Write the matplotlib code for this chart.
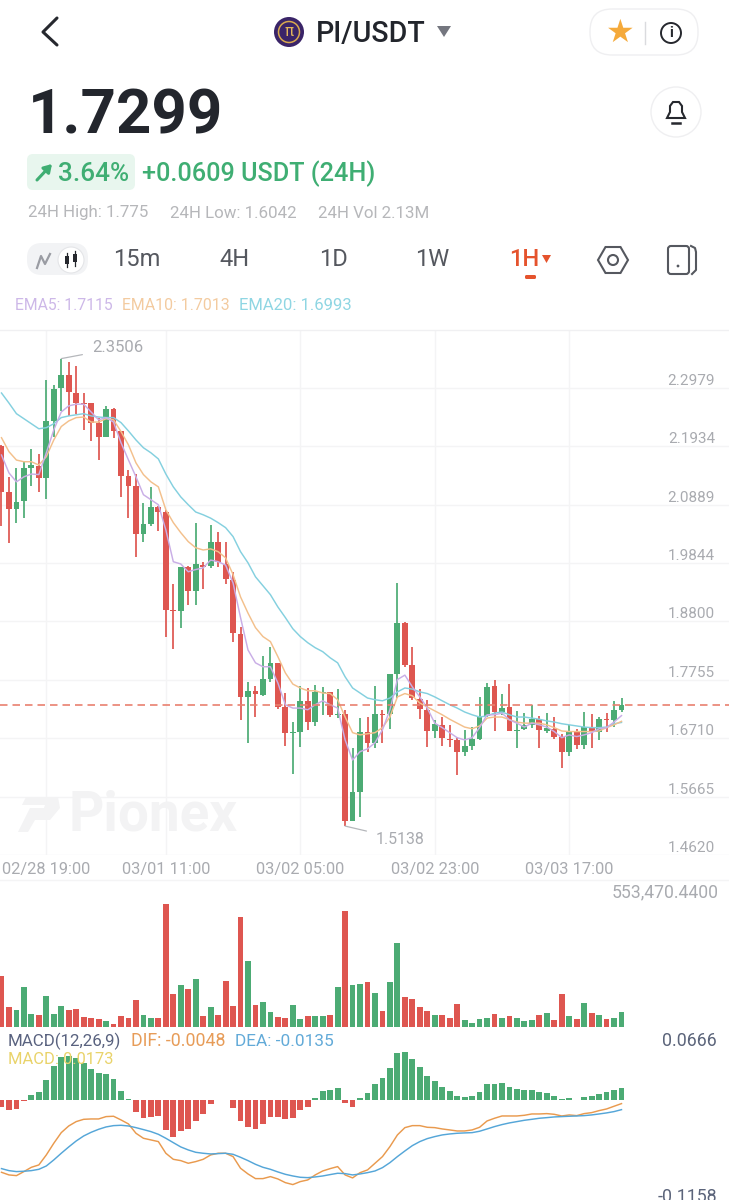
import numpy as np
import matplotlib
matplotlib.use("Agg")
import matplotlib.pyplot as plt
from matplotlib.patches import Circle, FancyBboxPatch, Polygon, Rectangle, RegularPolygon
from matplotlib.transforms import blended_transform_factory

plt.rcParams['font.family'] = ['Roboto', 'DejaVu Sans']

# ---------------- data ----------------
highs = [2.196,2.139,2.155,2.166,2.189,2.180,2.312,2.304,2.3506,2.345,2.338,2.289,2.271,2.245,2.266,2.262,2.221,2.151,2.144,2.092,2.121,
         2.087,2.080,1.947,1.978,1.980,2.057,1.987,2.053,2.040,2.023,1.969,1.870,1.772,1.765,1.818,1.835,1.806,1.752,1.700,1.765,1.761,
         1.767,1.763,1.754,1.759,1.722,1.654,1.707,1.709,1.765,1.722,1.786,1.949,1.879,1.835,1.759,1.740,1.704,1.709,1.695,1.674,1.686,
         1.691,1.745,1.770,1.776,1.751,1.768,1.720,1.716,1.731,1.711,1.716,1.709,1.679,1.695,1.688,1.718,1.715,1.709,1.716,1.738,1.743]
lows = [2.051,2.021,2.057,2.066,2.123,2.112,2.099,2.211,2.257,2.248,2.252,2.223,2.203,2.169,2.211,2.209,2.103,2.066,1.996,2.023,2.051,
        2.042,1.853,1.831,1.869,1.910,1.910,1.938,1.976,1.978,1.947,1.844,1.704,1.663,1.709,1.747,1.772,1.724,1.657,1.607,1.656,1.686,
        1.693,1.713,1.709,1.707,1.5138,1.523,1.530,1.647,1.654,1.663,1.688,1.743,1.799,1.740,1.705,1.656,1.672,1.657,1.656,1.606,1.640,
        1.650,1.668,1.709,1.684,1.713,1.684,1.654,1.686,1.690,1.654,1.681,1.670,1.618,1.640,1.652,1.652,1.654,1.668,1.683,1.691,1.718]
opens = [2.194,2.112,2.082,2.096,2.155,2.159,2.137,2.239,2.298,2.321,2.289,2.271,2.271,2.236,2.211,2.261,2.221,2.141,2.123,2.037,2.055,
         2.085,2.076,1.901,1.899,1.978,1.935,1.981,1.980,2.023,1.983,1.954,1.858,1.745,1.756,1.749,1.777,1.806,1.727,1.681,1.683,1.738,
         1.700,1.752,1.754,1.713,1.715,1.523,1.575,1.683,1.663,1.715,1.715,1.786,1.878,1.802,1.741,1.722,1.684,1.695,1.670,1.668,1.647,
         1.657,1.670,1.711,1.765,1.718,1.727,1.684,1.688,1.695,1.705,1.684,1.688,1.674,1.647,1.684,1.659,1.690,1.683,1.705,1.704,1.722]
closes = [2.112,2.082,2.094,2.155,2.160,2.137,2.239,2.296,2.321,2.291,2.271,2.269,2.236,2.211,2.261,2.221,2.141,2.123,2.037,2.055,2.085,
          2.076,1.901,1.899,1.978,1.935,1.983,1.978,2.023,1.987,1.956,1.860,1.745,1.756,1.751,1.777,1.806,1.727,1.681,1.683,1.738,1.700,
          1.754,1.754,1.713,1.715,1.523,1.575,1.683,1.663,1.715,1.713,1.786,1.878,1.802,1.743,1.724,1.684,1.697,1.672,1.668,1.647,1.657,
          1.670,1.709,1.763,1.718,1.725,1.684,1.686,1.695,1.705,1.686,1.690,1.674,1.647,1.683,1.659,1.691,1.683,1.705,1.704,1.722,1.7299]

ema5 = [2.178,2.146,2.130,2.139,2.144,2.143,2.182,2.223,2.255,2.266,2.269,2.269,2.255,2.241,2.245,2.237,2.200,2.169,2.139,2.107,2.098,
        2.089,2.044,1.987,1.983,1.969,1.973,1.976,1.990,1.987,1.981,1.949,1.887,1.829,1.806,1.799,1.799,1.770,1.731,1.725,1.725,1.722,
        1.731,1.738,1.731,1.725,1.668,1.632,1.647,1.652,1.663,1.686,1.722,1.776,1.784,1.763,1.745,1.725,1.698,1.690,1.681,1.672,1.668,
        1.672,1.690,1.713,1.713,1.716,1.704,1.698,1.691,1.698,1.695,1.691,1.683,1.672,1.677,1.674,1.677,1.681,1.688,1.690,1.700,1.7115]
ema10 = [2.209,2.184,2.169,2.166,2.166,2.160,2.175,2.205,2.229,2.239,2.245,2.246,2.237,2.237,2.243,2.241,2.220,2.196,2.164,2.143,2.130,
         2.121,2.080,2.057,2.039,2.023,2.012,2.008,2.010,2.005,1.994,1.964,1.924,1.895,1.869,1.853,1.844,1.817,1.788,1.768,1.761,1.756,
         1.756,1.752,1.751,1.740,1.709,1.681,1.677,1.679,1.681,1.690,1.709,1.745,1.751,1.747,1.734,1.727,1.720,1.713,1.705,1.698,1.691,
         1.688,1.693,1.707,1.709,1.709,1.704,1.700,1.698,1.698,1.698,1.695,1.690,1.684,1.683,1.683,1.683,1.683,1.684,1.690,1.695,1.7013]
ema20 = [2.289,2.271,2.252,2.243,2.234,2.225,2.227,2.234,2.245,2.248,2.250,2.252,2.248,2.246,2.245,2.245,2.236,2.221,2.205,2.191,2.182,
         2.171,2.144,2.121,2.103,2.089,2.076,2.071,2.065,2.057,2.048,2.032,2.005,1.985,1.960,1.944,1.928,1.906,1.887,1.867,1.853,1.842,
         1.833,1.826,1.815,1.806,1.781,1.761,1.752,1.743,1.740,1.738,1.743,1.754,1.761,1.759,1.754,1.751,1.745,1.738,1.731,1.725,1.718,
         1.713,1.709,1.711,1.716,1.718,1.713,1.709,1.709,1.707,1.705,1.702,1.700,1.697,1.695,1.693,1.691,1.690,1.690,1.691,1.697,1.6993]

# volume in thousands
volume_k = [229,87,75,179,56,53,140,57,92,74,78,42,39,35,26,12,47,38,120,51,39,39,553,149,186,168,214,47,89,53,208,95,493,298,98,110,66,
            42,39,96,36,47,50,50,51,179,520,188,191,203,150,71,202,376,135,123,87,71,51,54,41,101,29,15,35,38,57,41,48,39,26,32,51,60,30,
            147,50,36,107,63,54,35,38,66]

macd_hist = [-.0091,-.0144,-.0130,-.0014,.0077,.0120,.0298,.0490,.0629,.0638,.0605,.0542,.0456,.0389,.0374,.0302,.0139,.0014,-.0173,-.0254,
             -.0240,-.0221,-.0427,-.0528,-.0442,-.0413,-.0298,-.0197,-.0053,0,.0010,-.0106,-.0302,-.0384,-.0408,-.0346,-.0235,-.0240,-.0274,
             -.0259,-.0144,-.0096,.0034,.0130,.0149,.0178,-.0043,-.0101,.0029,.0101,.0235,.0317,.0470,.0677,.0691,.0590,.0485,.0350,.0278,
             .0192,.0134,.0067,.0048,.0058,.0120,.0235,.0240,.0250,.0192,.0158,.0144,.0144,.0115,.0101,.0067,.0014,.0034,.0010,.0048,.0058,
             .0096,.0115,.0144,.0173]
dif = [-.1037,-.1075,-.1085,-.1027,-.0965,-.0931,-.0787,-.0619,-.0466,-.0370,-.0307,-.0274,-.0269,-.0269,-.0235,-.0230,-.0283,-.0341,-.0475,
       -.0547,-.0571,-.0595,-.0763,-.0850,-.0869,-.0907,-.0883,-.0850,-.0787,-.0763,-.0763,-.0811,-.0979,-.1061,-.1128,-.1128,-.1099,-.1133,
       -.1186,-.1214,-.1171,-.1147,-.1075,-.1018,-.0984,-.0955,-.1075,-.1118,-.1042,-.1003,-.0907,-.0811,-.0667,-.0499,-.0394,-.0365,-.0365,
       -.0389,-.0394,-.0413,-.0427,-.0442,-.0442,-.0427,-.0389,-.0298,-.0259,-.0226,-.0226,-.0226,-.0216,-.0197,-.0197,-.0192,-.0202,-.0226,
       -.0211,-.0221,-.0192,-.0178,-.0149,-.0125,-.0086,-.0048]
dea = [-.0984,-.1013,-.1027,-.1022,-.1013,-.0994,-.0946,-.0859,-.0763,-.0672,-.0586,-.0514,-.0461,-.0418,-.0384,-.0365,-.0360,-.0370,-.0394,
       -.0422,-.0451,-.0490,-.0547,-.0610,-.0672,-.0715,-.0749,-.0763,-.0773,-.0768,-.0763,-.0778,-.0821,-.0869,-.0922,-.0965,-.0994,-.1032,
       -.1066,-.1090,-.1109,-.1114,-.1104,-.1090,-.1070,-.1051,-.1056,-.1075,-.1061,-.1042,-.1018,-.0970,-.0898,-.0811,-.0730,-.0653,-.0595,
       -.0552,-.0523,-.0499,-.0485,-.0475,-.0470,-.0466,-.0446,-.0413,-.0379,-.0350,-.0326,-.0307,-.0288,-.0274,-.0259,-.0250,-.0240,-.0235,
       -.0230,-.0226,-.0221,-.0211,-.0197,-.0182,-.0163,-.0135]

price_ticks = [1.4620,1.5665,1.6710,1.7755,1.8800,1.9844,2.0889,2.1934,2.2979]
time_pos = [6,22,40,58,76]
time_labels = ['02/28 19:00','03/01 11:00','03/02 05:00','03/02 23:00','03/03 17:00']
last_price = 1.7299

RED = '#DE5650'
GREEN = '#4CAB74'
GRID = '#F4F4F5'
GREY = '#A9ABB0'

W, H = 729, 1200
x = np.arange(len(closes))
opens = np.array(opens)
closes = np.array(closes)
up = closes >= opens
colors = [GREEN if u else RED for u in up]
XLIM = (-0.2, 97.39)

def add_axes(top, bottom):
    a = fig.add_axes([0, 1 - bottom / H, 1, (bottom - top) / H])
    a.set_xlim(*XLIM)
    a.patch.set_alpha(0)
    for s in a.spines.values():
        s.set_visible(False)
    return a

fig = plt.figure(figsize=(W / 100, H / 100), dpi=100, facecolor='white')

# ---- price panel ----
ax = add_axes(330, 855)
ax.set_ylim(1.4623, 2.4018)
ax.set_xticks(time_pos)
ax.set_xticklabels(time_labels, fontsize=11.8, color=GREY)
ax.set_yticks(price_ticks)
ax.set_yticklabels([])
ax.tick_params(length=0, pad=5)
ax.grid(color=GRID, lw=1)
ax.set_axisbelow(True)
ax.text(68 / W, 0.076, 'Pionex', transform=ax.transAxes, fontsize=39.5, fontweight='bold', color='#F3F3F4',
        va='center', zorder=1)
ax.vlines(x, lows, highs, color=colors, lw=1.25, zorder=3)
ax.bar(x, np.abs(closes - opens), bottom=np.minimum(opens, closes), width=0.78, color=colors, zorder=3)
ax.plot(x, ema20, color='#84D0DF', lw=1.05, zorder=4)
ax.plot(x, ema10, color='#F3C08C', lw=1.05, zorder=4)
ax.plot(x, ema5, color='#C9AEE6', lw=1.05, zorder=4)
ax.axhline(last_price, color='#E9806F', lw=1.2, dashes=(4.5, 3), zorder=5)

trans = blended_transform_factory(ax.transAxes, ax.transData)
for p in price_ticks:
    ax.text(715 / W, p, f'{p:.4f}', transform=trans, ha='right', va='bottom', fontsize=11, color=GREY)

ax.annotate('2.3506', xy=(8, 2.3506), xytext=(92, H - 348), textcoords='figure pixels', fontsize=12, color=GREY, va='center',
            arrowprops=dict(arrowstyle='-', color='#B5B7BB', lw=0.9, shrinkA=5, shrinkB=0))
ax.annotate('1.5138', xy=(46, 1.5138), xytext=(376, H - 839), textcoords='figure pixels', fontsize=11.4, color=GREY, va='center',
            arrowprops=dict(arrowstyle='-', color='#B5B7BB', lw=0.9, shrinkA=5, shrinkB=0))

# ---- volume panel ----
vax = add_axes(880, 1026.7)
vax.set_ylim(0, 553 * 146.7 / 122.7)
vax.set_xticks([])
vax.set_yticks([])
vax.bar(x, volume_k, width=0.78, color=colors)

# ---- macd panel ----
max_ = add_axes(1030, 1200)
max_.set_ylim(-0.1436, 0.1012)
max_.set_xticks([])
max_.set_yticks([])
max_.bar(x, macd_hist, width=0.78, color=[GREEN if v >= 0 else RED for v in macd_hist])
max_.plot(x, dif, color='#E99A4E', lw=1.05)
max_.plot(x, dea, color='#55A6D8', lw=1.05)

# ---- app chrome, in pixel coordinates ----
ui = fig.add_axes([0, 0, 1, 1], zorder=10)
ui.set_xlim(0, W)
ui.set_ylim(H, 0)
ui.axis('off')
ui.patch.set_alpha(0)

def label(px, py, s, size, color, ha='left', weight='normal', **kw):
    return ui.text(px, py, s, fontsize=size, color=color, ha=ha, va='center', fontweight=weight, **kw)

def rbox(x0, y0, x1, y1, r, fc, ec='none', lw=1):
    ui.add_patch(FancyBboxPatch((x0 + r, y0 + r), x1 - x0 - 2 * r, y1 - y0 - 2 * r,
                                boxstyle=f'round,pad={r},rounding_size={r}', fc=fc, ec=ec, lw=lw))

# top bar
ui.plot([57, 43, 57], [18, 32, 45], color='#26282E', lw=2.2, solid_capstyle='round', solid_joinstyle='round')
ui.add_patch(Circle((289, 32), 15, fc='#3A2468'))
ui.add_patch(Circle((289, 32), 10.5, fc='none', ec='#D9A94E', lw=1.1))
label(289, 32, 'π', 11, '#E3B65C', ha='center', family='DejaVu Sans')
label(316, 34, 'PI/USDT', 20.6, '#22252C', weight='medium')
ui.add_patch(Polygon([(437, 26), (451, 26), (444, 37)], fc='#74767F'))
rbox(590, 9, 698, 55, 22, 'white', '#EFEFF1', 1)
label(620, 33, '★', 23, '#F5AA3B', ha='center', family='DejaVu Sans')
ui.plot([645, 645], [22, 44], color='#DADBDE', lw=1)
ui.add_patch(Circle((671, 33), 10, fc='none', ec='#26282E', lw=1.4))
label(671, 33, 'i', 10.5, '#26282E', ha='center', weight='bold')

# price block
label(28, 116, '1.7299', 44.5, '#23262D', weight='bold')
ui.add_patch(Circle((676, 112), 25, fc='white', ec='#EFEFF1', lw=1))
ui.add_patch(Polygon([(667, 118), (670, 112), (670, 106), (673, 102), (679, 102), (682, 106), (682, 112), (685, 118)],
                     closed=True, fc='none', ec='#26282E', lw=1.5))
ui.plot([672, 680], [122.5, 122.5], color='#26282E', lw=1.8)

rbox(27, 154, 135, 190, 6, '#E8F6EE')
ui.annotate('', xy=(52, 164), xytext=(37, 180), arrowprops=dict(arrowstyle='-|>,head_width=0.28,head_length=0.45', color='#3FAE73', lw=2.2, shrinkA=0, shrinkB=0))
label(58, 174, '3.64%', 18.8, '#3FAE73', weight='medium')
label(142, 174, '+0.0609 USDT (24H)', 18.2, '#3FAE73', weight='medium')
label(28, 213, '24H High: 1.775', 12.2, '#B6B7BA')
label(170, 213, '24H Low: 1.6042', 12.2, '#B6B7BA')
label(318, 213, '24H Vol 2.13M', 12.2, '#B6B7BA')

# period tabs
rbox(27, 243, 88, 275, 15, '#F2F3F5')
ui.add_patch(Circle((71, 260), 13, fc='white', ec='#E4E5E8', lw=0.8))
ui.plot([37, 41, 45, 50], [268, 256, 264, 254], color='#9A9CA3', lw=1.6)
for cx, y0, y1, b0, b1 in [(67, 253, 267, 256, 264), (75, 251, 266, 254, 262)]:
    ui.plot([cx, cx], [y0, y1], color='#26282E', lw=0.9)
    ui.add_patch(Rectangle((cx - 2, b0), 4, b1 - b0, fc='#26282E'))
for cx, s in zip([137, 235, 333, 432], ['15m', '4H', '1D', '1W']):
    label(cx, 260, s, 17, '#55585F', ha='center')
label(524, 260, '1H', 17, '#E5532D', ha='center', weight='medium')
ui.add_patch(Polygon([(542, 255), (551, 255), (546.5, 263)], fc='#E5532D'))
rbox(525, 275, 536, 279, 1.5, '#E5532D')
ui.add_patch(RegularPolygon((613, 260), 6, radius=15, orientation=np.pi / 2, fc='none', ec='#55585F', lw=1.5))
ui.add_patch(Circle((613, 260), 5, fc='none', ec='#55585F', lw=1.5))
rbox(668, 246, 689, 274, 3, 'none', '#55585F', 1.5)
ui.add_patch(Circle((678, 266), 1.4, fc='#55585F'))
ui.plot([691, 695, 696, 696, 692], [246, 248, 252, 270, 274], color='#55585F', lw=1.5)

# indicator legends
label(15, 306, 'EMA5: 1.7115', 11.3, '#CDB8E8')
label(122, 306, 'EMA10: 1.7013', 11.4, '#F3CBA0')
label(239, 306, 'EMA20: 1.6993', 12, '#8FD6E3')
ui.plot([0, W], [329.5, 329.5], color='#F0F0F2', lw=1)
ui.plot([0, W], [879.5, 879.5], color=GRID, lw=1)

# watermark logo
ui.add_patch(Polygon([(26, 797), (58, 797), (60, 808), (50, 820), (35, 820), (28, 832), (18, 832), (30, 808), (44, 808), (45, 805), (22, 805)],
                     fc='#F3F3F4', zorder=0))

label(719, 892, '553,470.4400', 12.7, '#A9ABB0', ha='right')
label(8, 1041, 'MACD(12,26,9)', 12.2, '#59627F')
label(131, 1041, 'DIF: -0.0048', 12.8, '#E79C58')
label(235, 1041, 'DEA: -0.0135', 12.4, '#62AAD8')
label(8, 1059, 'MACD: 0.0173', 11.9, '#E9D36A')
label(717, 1041, '0.0666', 12.8, '#5B647A', ha='right')
label(717, 1197, '-0.1158', 12.8, '#5B647A', ha='right')

fig.savefig('out.png', dpi=100)
